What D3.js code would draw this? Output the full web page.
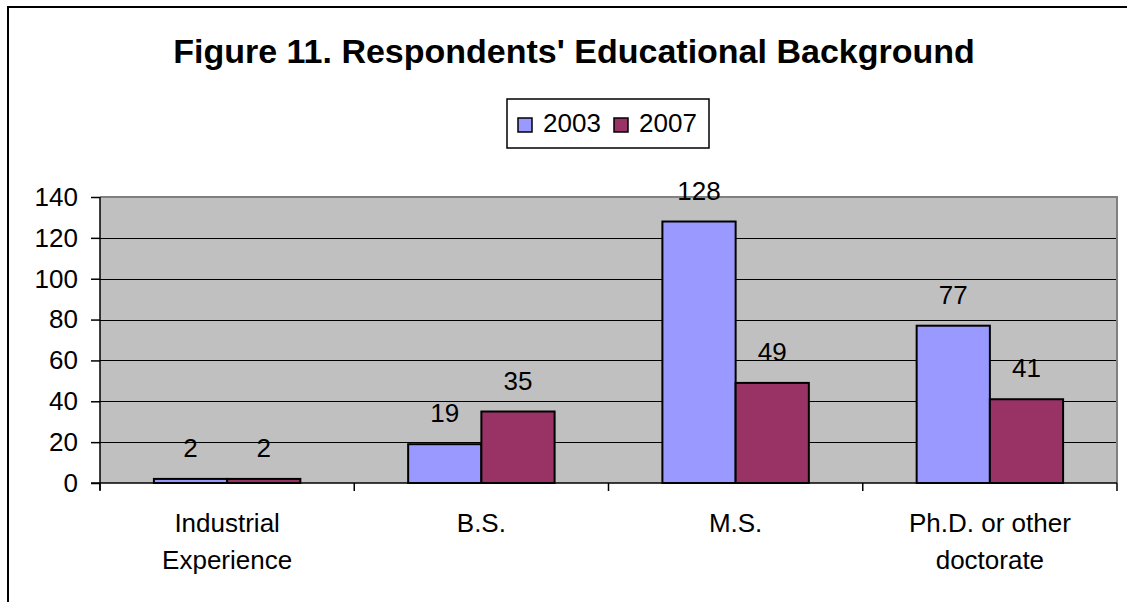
<!DOCTYPE html>
<html>
<head>
<meta charset="utf-8">
<script src="https://cdn.jsdelivr.net/npm/d3@7"></script>
<style>
  html, body { margin: 0; padding: 0; background: #fff; }
  svg { display: block; }
  text { font-family: "Liberation Sans", Arial, sans-serif; fill: #000; }
</style>
</head>
<body>
<svg id="chart" width="1127" height="602"></svg>
<script>
const title = "Figure 11. Respondents' Educational Background";
const categories = [["Industrial", "Experience"], ["B.S."], ["M.S."], ["Ph.D. or other", "doctorate"]];
const seriesNames = ["2003", "2007"];
const values2003 = [2, 19, 128, 77];
const values2007 = [2, 35, 49, 41];
const yTicks = [0, 20, 40, 60, 80, 100, 120, 140];
const colors = ["#9999FF", "#993366"];

const FS = 26;
const svg = d3.select("#chart");
const plot = { left: 100, right: 1117, top: 197, bottom: 483 };

// outer chart frame (extends past right/bottom edges)
svg.append("rect").attr("x", 8).attr("y", 7).attr("width", 1300).attr("height", 800)
  .attr("fill", "#fff").attr("stroke", "#000").attr("stroke-width", 2);

// title
svg.append("text").attr("x", 574).attr("y", 63).attr("text-anchor", "middle")
  .attr("font-size", 34).attr("font-weight", "bold").text(title);

const catKeys = categories.map(c => c.join(" "));
const x0 = d3.scaleBand().domain(catKeys).range([plot.left, plot.right]).paddingInner(0).paddingOuter(0);
const groupW = x0.bandwidth() * 0.576;
const x1 = d3.scaleBand().domain(seriesNames).range([0, groupW]).padding(0);
const y = d3.scaleLinear().domain([0, 140]).range([plot.bottom, plot.top]);

// plot background
svg.append("rect").attr("x", plot.left).attr("y", plot.top)
  .attr("width", plot.right - plot.left).attr("height", plot.bottom - plot.top)
  .attr("fill", "#C0C0C0");

// gridlines
svg.append("g").selectAll("line").data(yTicks.filter(t => t > 0 && t < 140)).join("line")
  .attr("x1", plot.left).attr("x2", plot.right)
  .attr("y1", d => Math.round(y(d)) + 0.5).attr("y2", d => Math.round(y(d)) + 0.5)
  .attr("stroke", "#000").attr("stroke-width", 1);

// plot border top/right gray
svg.append("path")
  .attr("d", `M${plot.left},${plot.top} H${plot.right} V${plot.bottom}`)
  .attr("fill", "none").attr("stroke", "#808080").attr("stroke-width", 2);

// bars
const data = catKeys.map((k, i) => ({ key: k, vals: [values2003[i], values2007[i]] }));
const groups = svg.append("g").selectAll("g").data(data).join("g")
  .attr("transform", d => `translate(${x0(d.key) + (x0.bandwidth() - groupW) / 2},0)`);
groups.selectAll("rect").data(d => d.vals.map((v, j) => ({ v, s: seriesNames[j], j }))).join("rect")
  .attr("x", d => x1(d.s)).attr("width", x1.bandwidth())
  .attr("y", d => y(d.v)).attr("height", d => y(0) - y(d.v))
  .attr("fill", d => colors[d.j]).attr("stroke", "#000").attr("stroke-width", 2);
groups.selectAll("text").data(d => d.vals.map((v, j) => ({ v, s: seriesNames[j], j }))).join("text")
  .attr("x", d => x1(d.s) + x1.bandwidth() / 2).attr("y", d => y(d.v) - 22)
  .attr("text-anchor", "middle").attr("font-size", FS).text(d => d.v);

// y axis
const yAxis = d3.axisLeft(y).tickValues(yTicks).tickSize(9).tickPadding(13);
const yg = svg.append("g").attr("transform", `translate(${plot.left},0)`).call(yAxis);
yg.select(".domain").remove();
yg.selectAll(".tick line").attr("stroke", "#000").attr("stroke-width", 1.5);
yg.selectAll(".tick text").attr("font-size", FS).attr("font-family", "Liberation Sans, Arial, sans-serif").attr("fill", "#000");
svg.append("line").attr("x1", plot.left).attr("x2", plot.left).attr("y1", plot.top).attr("y2", plot.bottom + 7)
  .attr("stroke", "#000").attr("stroke-width", 1.5);

// x axis
svg.append("line").attr("x1", plot.left - 9).attr("x2", plot.right).attr("y1", plot.bottom).attr("y2", plot.bottom)
  .attr("stroke", "#000").attr("stroke-width", 1.5);
const boundaries = catKeys.map(k => x0(k)).concat([plot.right]);
svg.append("g").selectAll("line").data(boundaries).join("line")
  .attr("x1", d => d).attr("x2", d => d).attr("y1", plot.bottom).attr("y2", plot.bottom + 8)
  .attr("stroke", "#000").attr("stroke-width", 1.5);
const xl = svg.append("g").selectAll("text").data(categories).join("text")
  .attr("x", (d, i) => x0(catKeys[i]) + x0.bandwidth() / 2).attr("y", 532)
  .attr("text-anchor", "middle").attr("font-size", FS);
xl.selectAll("tspan").data(d => d).join("tspan")
  .attr("x", function () { return d3.select(this.parentNode).attr("x"); })
  .attr("dy", (d, i) => i === 0 ? 0 : 37).text(d => d);

// legend
const lg = svg.append("g");
lg.append("rect").attr("x", 507).attr("y", 99).attr("width", 202).attr("height", 49)
  .attr("fill", "#fff").attr("stroke", "#000").attr("stroke-width", 1.5);
const legendX = [518, 614];
seriesNames.forEach((s, i) => {
  lg.append("rect").attr("x", legendX[i]).attr("y", 118).attr("width", 14).attr("height", 14)
    .attr("fill", colors[i]).attr("stroke", "#000").attr("stroke-width", 1.5);
  lg.append("text").attr("x", legendX[i] + 25).attr("y", 132).attr("font-size", FS).text(s);
});
</script>
</body>
</html>
